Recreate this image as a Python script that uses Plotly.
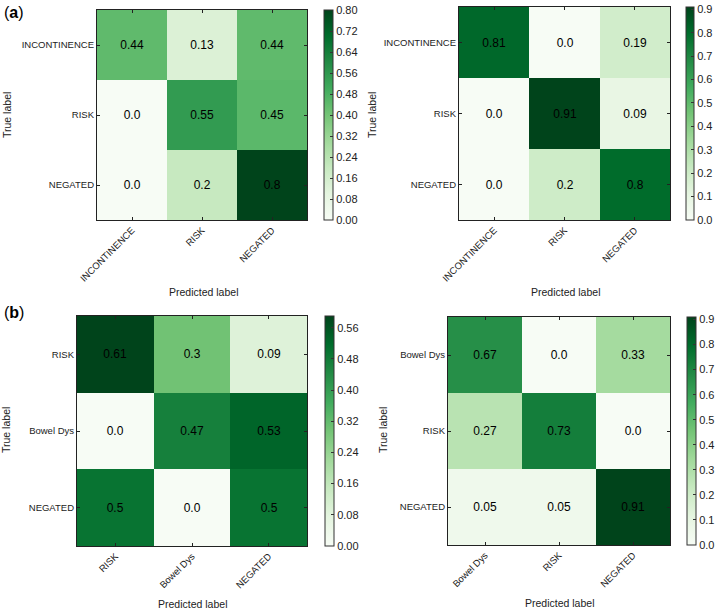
import plotly.graph_objects as go

# ---- data ----
labels_a = ["INCONTINENCE", "RISK", "NEGATED"]
cm_a1 = [[0.44, 0.13, 0.44],
         [0.0, 0.55, 0.45],
         [0.0, 0.2, 0.8]]
cm_a2 = [[0.81, 0.0, 0.19],
         [0.0, 0.91, 0.09],
         [0.0, 0.2, 0.8]]
labels_b1 = ["RISK", "Bowel Dys", "NEGATED"]
cm_b1 = [[0.61, 0.3, 0.09],
         [0.0, 0.47, 0.53],
         [0.5, 0.0, 0.5]]
labels_b2 = ["Bowel Dys", "RISK", "NEGATED"]
cm_b2 = [[0.67, 0.0, 0.33],
         [0.27, 0.73, 0.0],
         [0.05, 0.05, 0.91]]

cbar_ticks_a1 = [0.0, 0.08, 0.16, 0.24, 0.32, 0.40, 0.48, 0.56, 0.64, 0.72, 0.80]
cbar_ticks_a2 = [0.0, 0.1, 0.2, 0.3, 0.4, 0.5, 0.6, 0.7, 0.8, 0.9]
cbar_ticks_b1 = [0.0, 0.08, 0.16, 0.24, 0.32, 0.40, 0.48, 0.56]
cbar_ticks_b2 = [0.0, 0.1, 0.2, 0.3, 0.4, 0.5, 0.6, 0.7, 0.8, 0.9]

greens = [[0.0, "#f7fcf5"], [0.125, "#e5f5e0"], [0.25, "#c7e9c0"], [0.375, "#a1d99b"],
          [0.5, "#74c476"], [0.625, "#41ab5d"], [0.75, "#238b45"], [0.875, "#006d2c"],
          [1.0, "#00441b"]]

W, H = 720, 612
FONT = "Liberation Sans"

def px_x(v):
    return v / W

def px_y(v):
    return 1 - v / H

panels = [
    (cm_a1, labels_a, cbar_ticks_a1, 0.80, ".2f", (97, 307, 10, 220), (324, 333, 10, 220)),
    (cm_a2, labels_a, cbar_ticks_a2, 0.91, ".1f", (459, 670, 7, 220), (686, 694, 7, 220)),
    (cm_b1, labels_b1, cbar_ticks_b1, 0.59, ".2f", (77, 307, 316, 546), (325, 334, 316, 546)),
    (cm_b2, labels_b2, cbar_ticks_b2, 0.91, ".1f", (448, 670, 317, 545), (687, 696, 317, 545)),
]

fig = go.Figure()
annotations = []
for i, (z, labs, cticks, zmax, fmt, box, cb) in enumerate(panels, start=1):
    xa = "x" if i == 1 else f"x{i}"
    ya = "y" if i == 1 else f"y{i}"
    txt = [[str(v) for v in row] for row in z]
    fig.add_trace(go.Heatmap(
        z=z, x=labs, y=labs, xaxis=xa, yaxis=ya, text=txt,
        colorscale=greens, zmin=0, zmax=zmax,
        texttemplate="%{text}", textfont=dict(family=FONT, size=12, color="black"),
        hoverinfo="skip",
        colorbar=dict(
            x=px_x(cb[0]), xanchor="left", xref="paper",
            y=px_y(cb[3]), yanchor="bottom", len=(cb[3] - cb[2]) / H, lenmode="fraction",
            thickness=cb[1] - cb[0], thicknessmode="pixels",
            outlinewidth=1, outlinecolor="#333",
            tickvals=cticks, tickformat=fmt,
            ticks="inside", ticklen=3, tickcolor="#333",
            tickfont=dict(family=FONT, size=11, color="#222"),
            xpad=0, ypad=0,
        ),
    ))
    x0, x1, yt, yb = box
    axx = dict(domain=[px_x(x0), px_x(x1)], anchor=ya, tickangle=-45,
               showline=True, linecolor="#222", linewidth=1.2, mirror="allticks",
               ticks="inside", ticklen=3, tickcolor="#222", showgrid=False,
               automargin=False,
               tickfont=dict(family=FONT, size=9.5, color="#222"))
    axy = dict(domain=[px_y(yb), px_y(yt)], anchor=xa, autorange="reversed",
               showline=True, linecolor="#222", linewidth=1.2, mirror="allticks",
               ticks="inside", ticklen=3, tickcolor="#222", showgrid=False,
               automargin=False,
               tickfont=dict(family=FONT, size=9.5, color="#222"))
    fig.update_layout(**{("xaxis" if i == 1 else f"xaxis{i}"): axx,
                         ("yaxis" if i == 1 else f"yaxis{i}"): axy})

tx = [203, 565, 192, 559]
ty_pred = [292, 292, 604, 603]
tl_x = [7, 372, 6, 383]
tl_y = [115, 115, 430, 430]
for k in range(4):
    annotations.append(dict(text="Predicted label", x=px_x(tx[k]), y=px_y(ty_pred[k]),
                            xref="paper", yref="paper", showarrow=False,
                            xanchor="center", yanchor="middle",
                            font=dict(family=FONT, size=10.5, color="#222")))
    annotations.append(dict(text="True label", x=px_x(tl_x[k]), y=px_y(tl_y[k]),
                            xref="paper", yref="paper", showarrow=False, textangle=-90,
                            xanchor="center", yanchor="middle",
                            font=dict(family=FONT, size=10.5, color="#222")))

annotations.append(dict(text="(<b>a</b>)", x=px_x(2), y=px_y(12), xref="paper", yref="paper",
                        showarrow=False, xanchor="left", yanchor="middle",
                        font=dict(family=FONT, size=16, color="black")))
annotations.append(dict(text="(<b>b</b>)", x=px_x(2), y=px_y(312), xref="paper", yref="paper",
                        showarrow=False, xanchor="left", yanchor="middle",
                        font=dict(family=FONT, size=16, color="black")))

fig.update_layout(
    width=W, height=H,
    margin=dict(l=0, r=0, t=0, b=0, autoexpand=False),
    paper_bgcolor="white", plot_bgcolor="white",
    annotations=annotations,
    showlegend=False,
)

fig.write_html("out.html", config={"displayModeBar": False},
               post_script="document.body.style.margin='0px';document.body.style.overflow='hidden';")
